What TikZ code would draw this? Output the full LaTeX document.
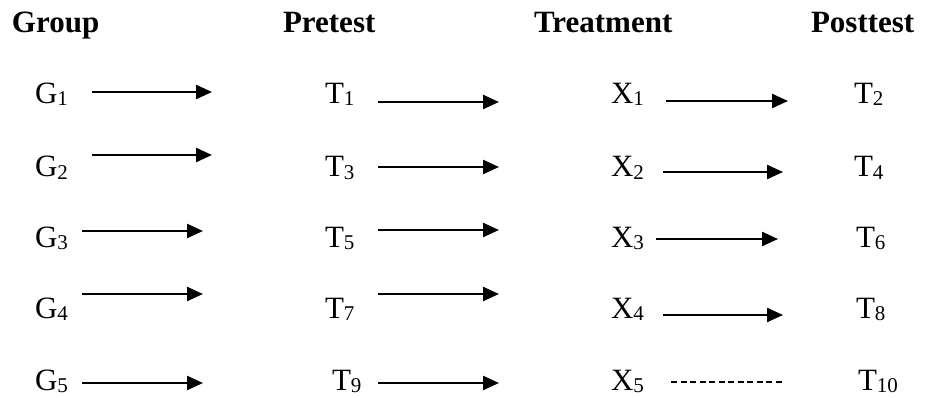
\documentclass[tikz,border=0pt]{standalone}
\usepackage{fontspec}
\setmainfont{Liberation Serif}
\usetikzlibrary{arrows.meta}
\newcommand\sbs[1]{\raisebox{-2pt}{\fontsize{21}{21}\selectfont #1}}
\tikzset{
  lbl/.style={anchor=base west, inner sep=0pt, outer sep=0pt, font=\fontsize{31}{31}\selectfont},
  hdr/.style={lbl, font=\fontsize{31}{31}\selectfont\bfseries},
  arr/.style={line width=2.4pt, -{Triangle[length=16pt,width=14pt]}},
  dsh/.style={line width=1.3pt, dash pattern=on 6pt off 3.5pt}
}
\begin{document}
\begin{tikzpicture}[x=1pt,y=-1pt]
\useasboundingbox (0,0) rectangle (936,398);
% headers
\node[hdr] (hg) at (12,33) {Group};
\node[hdr] (hp) at (283,33) {Pretest};
\node[hdr] (ht) at (534,33) {Treatment};
\node[hdr] (hq) at (811,33) {Posttest};
% row labels
\node[lbl] (g1) at (35,104) {G\sbs{1}};
\node[lbl] (g2) at (35,177) {G\sbs{2}};
\node[lbl] (g3) at (35,247) {G\sbs{3}};
\node[lbl] (g4) at (35,318) {G\sbs{4}};
\node[lbl] (g5) at (35,390) {G\sbs{5}};
\node[lbl] (t1) at (325,104) {T\sbs{1}};
\node[lbl] (t3) at (325,177) {T\sbs{3}};
\node[lbl] (t5) at (325,247) {T\sbs{5}};
\node[lbl] (t7) at (325,318) {T\sbs{7}};
\node[lbl] (t9) at (332,390) {T\sbs{9}};
\node[lbl] (x1) at (611,104) {X\sbs{1}};
\node[lbl] (x2) at (611,177) {X\sbs{2}};
\node[lbl] (x3) at (611,247) {X\sbs{3}};
\node[lbl] (x4) at (611,318) {X\sbs{4}};
\node[lbl] (x5) at (611,390) {X\sbs{5}};
\node[lbl] (t2) at (854,104) {T\sbs{2}};
\node[lbl] (t4) at (854,177) {T\sbs{4}};
\node[lbl] (t6) at (856,247) {T\sbs{6}};
\node[lbl] (t8) at (856,318) {T\sbs{8}};
\node[lbl] (t10) at (858,390) {T\sbs{10}};
% arrow end points
\coordinate (ga1) at (92,92);   \coordinate (gb1) at (212,92);
\coordinate (ga2) at (92,155);  \coordinate (gb2) at (212,155);
\coordinate (ga3) at (82,231);  \coordinate (gb3) at (203,231);
\coordinate (ga4) at (82,294);  \coordinate (gb4) at (203,294);
\coordinate (ga5) at (82,383);  \coordinate (gb5) at (203,383);
\coordinate (ta1) at (378,102); \coordinate (tb1) at (499,102);
\coordinate (ta2) at (378,167); \coordinate (tb2) at (499,167);
\coordinate (ta3) at (378,230); \coordinate (tb3) at (499,230);
\coordinate (ta4) at (378,294); \coordinate (tb4) at (499,294);
\coordinate (ta5) at (378,383); \coordinate (tb5) at (499,383);
\coordinate (xa1) at (666,101); \coordinate (xb1) at (788,101);
\coordinate (xa2) at (663,172); \coordinate (xb2) at (783,172);
\coordinate (xa3) at (656,239); \coordinate (xb3) at (778,239);
\coordinate (xa4) at (663,315); \coordinate (xb4) at (783,315);
\coordinate (xa5) at (671,382); \coordinate (xb5) at (784,382);
% arrows
\foreach \i in {1,...,5} {
  \draw[arr] (ga\i) -- (gb\i);
  \draw[arr] (ta\i) -- (tb\i);
}
\foreach \i in {1,...,4} {
  \draw[arr] (xa\i) -- (xb\i);
}
\draw[dsh] (xa5) -- (xb5);
\end{tikzpicture}
\end{document}
